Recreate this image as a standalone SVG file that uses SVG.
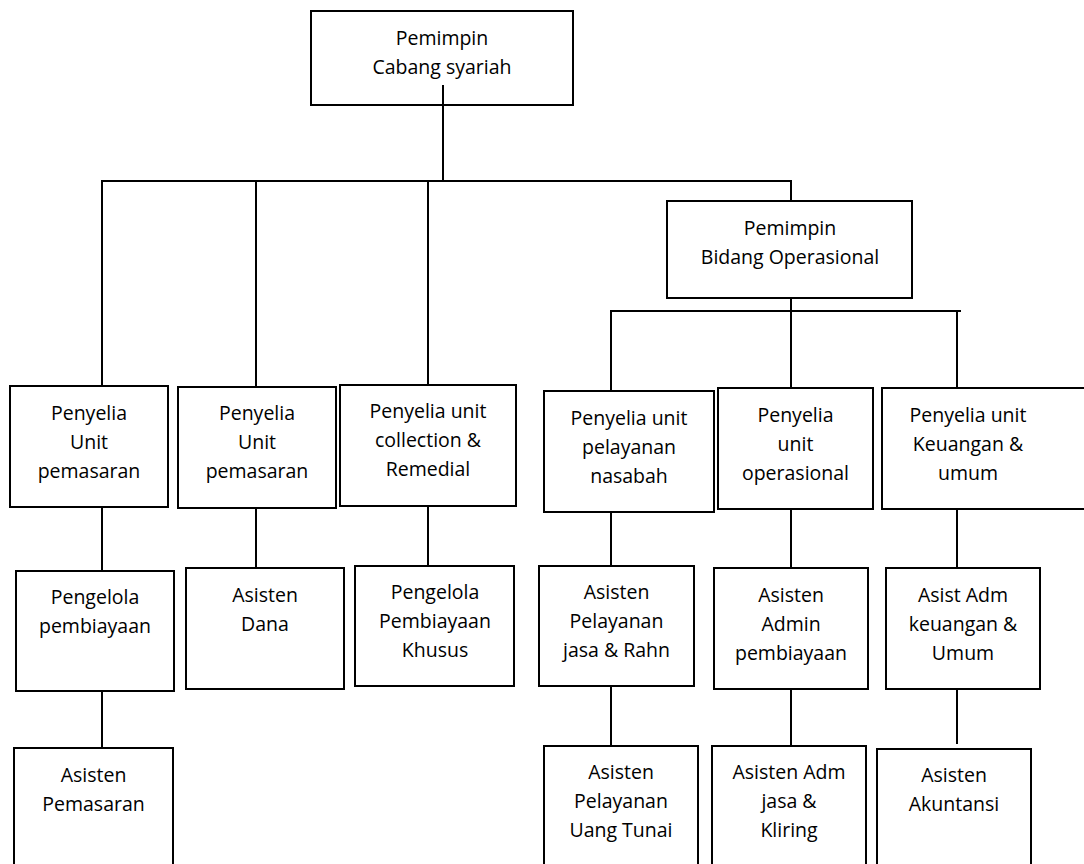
<svg xmlns="http://www.w3.org/2000/svg" width="1084" height="864" viewBox="0 0 1084 864">
<style>
  .box { fill: #ffffff; stroke: #000000; stroke-width: 2; }
  .conn line, .conn polyline { stroke: #000000; stroke-width: 2; fill: none; }
  text { font-family: "Open Sans", "Liberation Sans", sans-serif; font-size: 19.5px; fill: #000000; text-anchor: middle; }
</style>
<rect width="1084" height="864" fill="#ffffff"/>

<g id="n-pemimpin-cabang">
  <rect class="box" x="311" y="11" width="262" height="94"/>
  <text x="442" y="45">Pemimpin</text>
  <text x="442" y="74">Cabang syariah</text>
</g>

<g id="n-pemimpin-bidang">
  <rect class="box" x="667" y="201" width="245" height="97"/>
  <text x="790" y="235">Pemimpin</text>
  <text x="790" y="264">Bidang Operasional</text>
</g>

<g id="n-penyelia-pemasaran-1">
  <rect class="box" x="10" y="386" width="158" height="121"/>
  <text x="89" y="420">Penyelia</text>
  <text x="89" y="449">Unit</text>
  <text x="89" y="478">pemasaran</text>
</g>

<g id="n-penyelia-pemasaran-2">
  <rect class="box" x="178" y="387" width="158" height="121"/>
  <text x="257" y="420">Penyelia</text>
  <text x="257" y="449">Unit</text>
  <text x="257" y="478">pemasaran</text>
</g>

<g id="n-penyelia-collection">
  <rect class="box" x="340" y="385" width="176" height="121"/>
  <text x="428" y="418">Penyelia unit</text>
  <text x="428" y="447">collection &amp;</text>
  <text x="428" y="476">Remedial</text>
</g>

<g id="n-penyelia-pelayanan">
  <rect class="box" x="544" y="391" width="170" height="121"/>
  <text x="629" y="425">Penyelia unit</text>
  <text x="629" y="454">pelayanan</text>
  <text x="629" y="483">nasabah</text>
</g>

<g id="n-penyelia-operasional">
  <rect class="box" x="718" y="388" width="155" height="121"/>
  <text x="795.5" y="422">Penyelia</text>
  <text x="795.5" y="451">unit</text>
  <text x="795.5" y="480">operasional</text>
</g>

<g id="n-penyelia-keuangan">
  <rect class="box" x="882" y="388" width="210" height="121"/>
  <text x="968" y="422">Penyelia unit</text>
  <text x="968" y="451">Keuangan &amp;</text>
  <text x="968" y="480">umum</text>
</g>

<g id="n-pengelola-pembiayaan">
  <rect class="box" x="16" y="571" width="158" height="120"/>
  <text x="95" y="604">Pengelola</text>
  <text x="95" y="633">pembiayaan</text>
</g>

<g id="n-asisten-dana">
  <rect class="box" x="186" y="568" width="158" height="121"/>
  <text x="265" y="602">Asisten</text>
  <text x="265" y="631">Dana</text>
</g>

<g id="n-pengelola-khusus">
  <rect class="box" x="355" y="566" width="159" height="120"/>
  <text x="435" y="599">Pengelola</text>
  <text x="435" y="628">Pembiayaan</text>
  <text x="435" y="657">Khusus</text>
</g>

<g id="n-asisten-jasa-rahn">
  <rect class="box" x="539" y="566" width="155" height="120"/>
  <text x="616.5" y="599">Asisten</text>
  <text x="616.5" y="628">Pelayanan</text>
  <text x="616.5" y="657">jasa &amp; Rahn</text>
</g>

<g id="n-asisten-admin-pembiayaan">
  <rect class="box" x="714" y="568" width="154" height="121"/>
  <text x="791" y="602">Asisten</text>
  <text x="791" y="631">Admin</text>
  <text x="791" y="660">pembiayaan</text>
</g>

<g id="n-asist-adm-keuangan">
  <rect class="box" x="886" y="568" width="154" height="121"/>
  <text x="963" y="602">Asist Adm</text>
  <text x="963" y="631">keuangan &amp;</text>
  <text x="963" y="660">Umum</text>
</g>

<g id="n-asisten-pemasaran">
  <rect class="box" x="14" y="748" width="159" height="130"/>
  <text x="93.5" y="782">Asisten</text>
  <text x="93.5" y="811">Pemasaran</text>
</g>

<g id="n-asisten-uang-tunai">
  <rect class="box" x="544" y="746" width="154" height="130"/>
  <text x="621" y="779">Asisten</text>
  <text x="621" y="808">Pelayanan</text>
  <text x="621" y="837">Uang Tunai</text>
</g>

<g id="n-asisten-kliring">
  <rect class="box" x="712" y="746" width="154" height="130"/>
  <text x="789" y="779">Asisten Adm</text>
  <text x="789" y="808">jasa &amp;</text>
  <text x="789" y="837">Kliring</text>
</g>

<g id="n-asisten-akuntansi">
  <rect class="box" x="877" y="749" width="154" height="130"/>
  <text x="954" y="782">Asisten</text>
  <text x="954" y="811">Akuntansi</text>
</g>

<g id="connectors" class="conn">
  <line x1="443" y1="85" x2="443" y2="181"/>
  <line x1="101" y1="181" x2="792" y2="181"/>
  <line x1="791" y1="181" x2="791" y2="201"/>
  <line x1="102" y1="181" x2="102" y2="386"/>
  <line x1="256" y1="181" x2="256" y2="387"/>
  <line x1="428" y1="181" x2="428" y2="385"/>
  <line x1="791" y1="298" x2="791" y2="311"/>
  <line x1="610" y1="311" x2="961" y2="311"/>
  <line x1="611" y1="311" x2="611" y2="391"/>
  <line x1="791" y1="311" x2="791" y2="388"/>
  <line x1="957" y1="311" x2="957" y2="388"/>
  <line x1="102" y1="507" x2="102" y2="571"/>
  <line x1="102" y1="691" x2="102" y2="748"/>
  <line x1="256" y1="508" x2="256" y2="568"/>
  <line x1="428" y1="506" x2="428" y2="566"/>
  <line x1="611" y1="512" x2="611" y2="566"/>
  <line x1="611" y1="686" x2="611" y2="746"/>
  <line x1="791" y1="509" x2="791" y2="568"/>
  <line x1="791" y1="689" x2="791" y2="746"/>
  <line x1="957" y1="509" x2="957" y2="568"/>
  <line x1="957" y1="689" x2="957" y2="744"/>
</g>
</svg>
